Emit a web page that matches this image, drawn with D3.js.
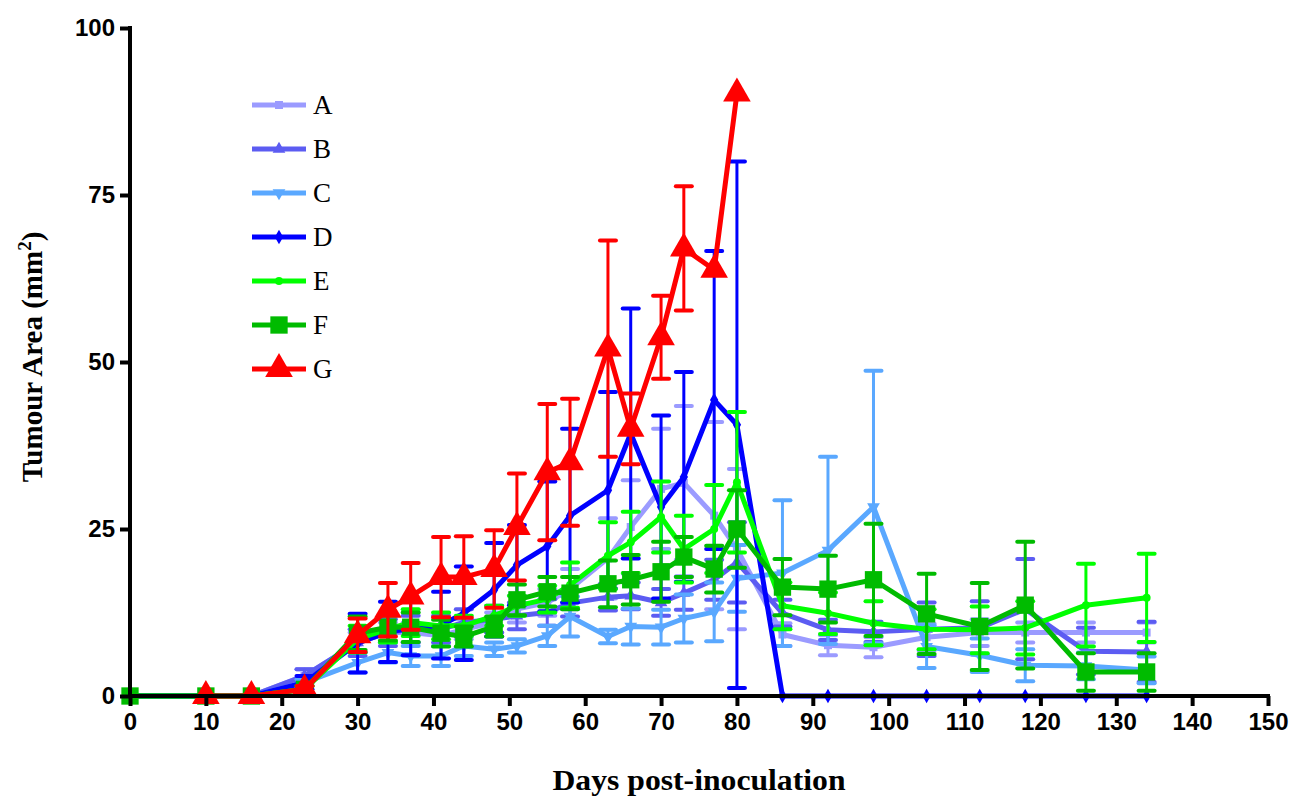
<!DOCTYPE html>
<html><head><meta charset="utf-8">
<script src="https://cdn.jsdelivr.net/npm/d3@7"></script>
<style>body{margin:0;background:#fff}svg{display:block}</style>
</head><body><svg id="c" width="1293" height="797"></svg>
<script>
const days = [0,10,16,23,30,34,37,41,44,48,51,55,58,63,66,70,73,77,80,86,92,98,105,112,118,126,134];
const seriesNames = ["A","B","C","D","E","F","G"];
const valA = [0,0,0,3,8,9.5,9.5,9,10,11,13,14,16,20.6,25.3,31,31.9,27,22,9.2,7.6,7.3,8.8,9.5,9.5,9.5,9.5];
const errA = [0,0,0,1,1.5,1.5,1.5,1.5,1.5,1.5,2,2,3,6,7,9,11.5,14,12,1.7,1.5,1.5,2,2,1.5,1.5,1.5];
const valB = [0,0,0,3,8,9.5,10,10,11,11.5,12,12.5,13.9,14.8,15,14,15.4,17.4,20,12.4,9.9,9.6,10,10.2,13,6.7,6.6];
const errB = [0,0,0,1,2,2,2,2,2,2,2,2,2,2,2,2,2.5,3,6,2,1.5,1.5,4,4,7.5,3.5,4.5];
const valC = [0,0,0,2,5,6.5,6,6,7.5,7,7.5,9,11.9,8.9,10.4,10.3,11.6,12.6,17.6,18.4,21.8,28.3,7.4,6.1,4.6,4.5,3.9];
const errC = [0,0,0,0.5,1.5,1.5,1.5,1.5,1.5,1,1,1.5,3,1,2.7,2.6,3.6,4.4,5,10.9,14,20.4,3.2,2.5,2.4,2,2];
const valD = [0,0,0,2,7.9,9.6,10.1,10.6,12.4,15.9,19.6,22.4,27,30.8,39.3,28.3,32.8,44.3,40.6,0,0,0,0,0,0,0,0];
const errD = [0,0,0,1,4.4,4.5,4,5,7,7,6,9.7,13,14.7,18.7,13.7,15.7,22.3,39.4,0,0,0,0,0,0,0,0];
const valE = [0,0,0,1,8.5,10,11,10.5,10.5,12,13.5,14.5,16.6,21,23,26.8,22,25,32,13.5,12.4,10.9,10,9.9,10.2,13.6,14.7];
const errE = [0,0,0,0.5,2,2,2,2,1.5,1.5,1.5,2,3.4,5,4.6,5.3,5,6.6,10.5,3.5,3.1,3.3,3,3.5,4,6.2,6.6];
const valF = [0,0,0,1,9.4,10.3,10.3,9.4,8.9,10.4,14.4,15.6,15.4,16.8,17.4,18.6,20.8,19,25,16.3,16,17.4,12.3,10.4,13.6,3.6,3.6];
const errF = [0,0,0,0.5,2.5,2,2.2,2,1.5,1.5,2.3,2.2,2.4,3.5,3.7,4.5,3,3.5,5.8,4.2,5,8.4,6,6.5,9.5,2.8,2.8];
const valG = [null,0,0,1,9.1,12.9,14.9,17.8,17.8,19,25.3,33.5,35,52,40,53.7,67,63.8,90.2];
const errG = [0,0,0,0.5,2.5,4,5,6,6.1,5.8,8,10.2,9.5,16.2,5.3,6.2,9.3,0,0];
const xTicks = [0,10,20,30,40,50,60,70,80,90,100,110,120,130,140,150];
const yTicks = [0,25,50,75,100];

const values = {A:valA,B:valB,C:valC,D:valD,E:valE,F:valF,G:valG};
const errors = {A:errA,B:errB,C:errC,D:errD,E:errE,F:errF,G:errG};
const colors = {A:"#9b9bff",B:"#5c5cf2",C:"#5aa8ff",D:"#0000ff",E:"#00ff00",F:"#00bb00",G:"#ff0000"};
const shapes = {A:["square",64,0],B:["triangle",70,0],C:["triangle",70,180],D:["diamond",60,0],E:["circle",50,0],F:["square",300,0],G:["triangle",330,0]};
const symType = {square:d3.symbolSquare,triangle:d3.symbolTriangle,diamond:d3.symbolDiamond,circle:d3.symbolCircle};

const svg = d3.select("#c");
const x = d3.scaleLinear().domain([0,150]).range([130,1268]);
const y = d3.scaleLinear().domain([0,100]).range([696,28]);

seriesNames.forEach(s=>{
  const pts = values[s].map((v,i)=>({d:days[i],v:v,e:errors[s][i]})).filter(p=>p.v!==null);
  const g = svg.append("g");
  const c = colors[s];
  const eb = g.append("g").attr("stroke",c).attr("stroke-linecap","round");
  pts.filter(p=>p.e>0).forEach(p=>{
    eb.append("line").attr("x1",x(p.d)).attr("x2",x(p.d)).attr("y1",y(p.v-p.e)).attr("y2",y(p.v+p.e)).attr("stroke-width",3);
    [p.v-p.e,p.v+p.e].forEach(t=>{
      eb.append("line").attr("x1",x(p.d)-8).attr("x2",x(p.d)+8).attr("y1",y(t)).attr("y2",y(t)).attr("stroke-width",4);
    });
  });
  g.append("path").datum(pts).attr("fill","none").attr("stroke",c).attr("stroke-width",5)
    .attr("stroke-linejoin","round")
    .attr("d",d3.line().x(p=>x(p.d)).y(p=>y(p.v)));
  const sh = shapes[s];
  const sym = d3.symbol().type(symType[sh[0]]).size(sh[1]);
  g.selectAll(".m").data(pts).enter().append("path")
    .attr("d",sym).attr("fill",c)
    .attr("transform",p=>`translate(${x(p.d)},${y(p.v)}) rotate(${sh[2]})`);
});

const ax = svg.append("g").attr("transform","translate(0,696)")
  .call(d3.axisBottom(x).tickValues(xTicks).tickSize(10).tickPadding(7).tickSizeOuter(0));
const ay = svg.append("g").attr("transform","translate(130,0)")
  .call(d3.axisLeft(y).tickValues(yTicks).tickSize(10).tickPadding(5).tickSizeOuter(0));
[ax,ay].forEach(a=>{
  a.select(".domain").attr("stroke","#000").attr("stroke-width",4);
  a.selectAll(".tick line").attr("stroke","#000").attr("stroke-width",4);
  a.selectAll(".tick text").attr("fill","#000").attr("font-family","Liberation Sans, Arial, sans-serif")
    .attr("font-weight","bold").attr("font-size",24);
});
ax.select(".domain").attr("d","M128,0H1270");
ay.select(".domain").attr("d","M0,26V698");

svg.append("text").attr("x",699).attr("y",790).attr("text-anchor","middle")
  .attr("font-family","Liberation Serif, Times New Roman, serif").attr("font-weight","bold").attr("font-size",29)
  .attr("textLength",293).attr("lengthAdjust","spacingAndGlyphs")
  .text("Days post-inoculation");
const yt = svg.append("text").attr("transform","translate(42,357) rotate(-90)").attr("text-anchor","middle")
  .attr("font-family","Liberation Serif, Times New Roman, serif").attr("font-weight","bold").attr("font-size",29);
yt.append("tspan").text("Tumour Area (mm");
yt.append("tspan").attr("dy",-11).attr("font-size",19).text("2");
yt.append("tspan").attr("dy",11).text(")");

const lg = svg.append("g");
seriesNames.forEach((s,i)=>{
  const ly = 105 + i*44;
  lg.append("line").attr("x1",252).attr("x2",306).attr("y1",ly).attr("y2",ly).attr("stroke",colors[s]).attr("stroke-width",5);
  const sh = shapes[s];
  lg.append("path").attr("d",d3.symbol().type(symType[sh[0]]).size(sh[1])()).attr("fill",colors[s])
    .attr("transform",`translate(279,${ly}) rotate(${sh[2]})`);
  lg.append("text").attr("x",313).attr("y",ly+9).attr("font-family","Liberation Serif, Times New Roman, serif")
    .attr("font-size",27).attr("fill","#000").text(s);
});
</script></body></html>
